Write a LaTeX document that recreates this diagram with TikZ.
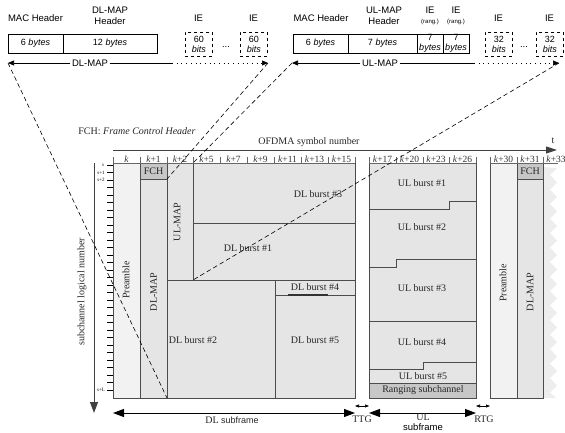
\documentclass[tikz,border=0pt]{standalone}
\usepackage{fontspec}
\setmainfont{Liberation Serif}
\setsansfont{Liberation Sans}
\usetikzlibrary{arrows.meta}

\definecolor{preamblegray}{gray}{0.95}
\definecolor{burstgray}{gray}{0.9}
\definecolor{fchgray}{gray}{0.78}
\definecolor{edgegray}{gray}{0.3}

\newcommand*{\ftop}{163}
\newcommand*{\fbot}{398}
\newcommand*{\fieldtop}{34}
\newcommand*{\arrowy}{63}
\newcommand*{\subarrowy}{413}

\begin{document}
\begin{tikzpicture}
[
	x=1pt,
	y=-1pt,
	hdr/.style={font=\sffamily\fontsize{9.5}{10.5}\selectfont,align=center,inner sep=0pt},
	field/.style={draw,anchor=north west,minimum height=19pt,inner sep=0pt,outer sep=0pt,align=center,font=\sffamily\fontsize{9}{9.5}\selectfont},
	iebox/.style={draw,dashed,line width=0.8pt,anchor=north west,minimum width=27pt,minimum height=24pt,inner sep=0pt,align=center,font=\sffamily\fontsize{9}{9.5}\selectfont},
	maparrow/.style={-{Triangle[length=6pt,width=5pt]},line width=0.7pt},
	mapline/.style={dash pattern=on 4.5pt off 3pt,line width=0.6pt},
	cell/.style={draw=edgegray,line width=0.8pt},
	lbl/.style={font=\fontsize{10}{11}\selectfont,text=black!85,inner sep=0pt},
	vlbl/.style={lbl,rotate=90},
	ticklbl/.style={font=\fontsize{9.5}{10}\selectfont,text=black!80,inner sep=0pt},
	ruler/.style={draw=black!60,line width=0.6pt},
	subarrow/.style={{Triangle[length=11pt,width=8pt]}-{Triangle[length=11pt,width=8pt]},line width=1pt},
	gaparrow/.style={{Triangle[length=4pt,width=3pt]}-{Triangle[length=4pt,width=3pt]},line width=0.6pt}
]

	\useasboundingbox (0,0) rectangle (565,432);

	% DL-MAP message
	\node[hdr] (dlmac) at (35.5,18) {MAC Header};
	\node[hdr] (dlhead) at (110,16) {DL-MAP\\Header};
	\node[field,minimum width=55pt] (dlsix) at (8,\fieldtop) {6 \textit{bytes}};
	\node[field,minimum width=94pt] (dltwelve) at (dlsix.north east) {12 \textit{bytes}};
	\node[iebox] (dlieA) at (185,32) {60\\\textit{bits}};
	\node[iebox] (dlieB) at (240,32) {60\\\textit{bits}};
	\node[hdr] (dlieAt) at (198.5,18) {IE};
	\node[hdr] (dlieBt) at (253.5,18) {IE};
	\node[hdr] (dldots) at (226,47) {...};

	\coordinate (dlL) at (8,\arrowy);
	\coordinate (dlS) at (172,\arrowy);
	\coordinate (dlR) at (268,\arrowy);
	\node[hdr,inner xsep=1.5pt] (dlmap) at (90,\arrowy) {DL-MAP};
	\draw[maparrow] (dlmap.west) -- (dlL);
	\draw[line width=0.7pt] (dlmap.east) -- (dlS);
	\draw[maparrow,dash pattern=on 0.7pt off 4pt] (dlS) -- (dlR);

	% UL-MAP message
	\node[hdr] (ulmac) at (321,18) {MAC Header};
	\node[hdr] (ulhead) at (384,16) {UL-MAP\\Header};
	\node[hdr] (ulrngAt) at (430,16) {IE\\[-1pt]{\fontsize{6}{6}\selectfont(rang.)}};
	\node[hdr] (ulrngBt) at (456,16) {IE\\[-1pt]{\fontsize{6}{6}\selectfont(rang.)}};
	\node[field,minimum width=55pt] (ulsix) at (293,\fieldtop) {6 \textit{bytes}};
	\node[field,minimum width=69pt] (ulseven) at (ulsix.north east) {7 \textit{bytes}};
	\node[field,minimum width=26pt] (ulrngA) at (ulseven.north east) {7\\\textit{bytes}};
	\node[field,minimum width=26pt] (ulrngB) at (ulrngA.north east) {7\\\textit{bytes}};
	\node[iebox] (ulieA) at (485,32) {32\\\textit{bits}};
	\node[iebox] (ulieB) at (536,32) {32\\\textit{bits}};
	\node[hdr] (ulieAt) at (498.5,18) {IE};
	\node[hdr] (ulieBt) at (549.5,18) {IE};
	\node[hdr] (uldots) at (524,47) {...};

	\coordinate (ulL) at (292,\arrowy);
	\coordinate (ulS) at (474,\arrowy);
	\coordinate (ulR) at (559,\arrowy);
	\node[hdr,inner xsep=1.5pt] (ulmap) at (380,\arrowy) {UL-MAP};
	\draw[maparrow] (ulmap.west) -- (ulL);
	\draw[line width=0.7pt] (ulmap.east) -- (ulS);
	\draw[maparrow,dash pattern=on 0.7pt off 4pt] (ulS) -- (ulR);

	% axes
	\node[lbl] (fchnote) at (137,131) {FCH: \textit{Frame Control Header}};
	\node[lbl] (ofdma) at (309,142) {OFDMA symbol number};
	\node[lbl] (tlbl) at (553,141) {t};
	\draw[line width=1pt,black!75,-{Triangle[length=11pt,width=7pt]}] (113,150) -- (557,150);
	\draw[line width=1pt,black!75,-{Triangle[length=11pt,width=8pt]}] (94,\ftop) -- (94,\subarrowy);
	\foreach \i in {0,...,30}
		\draw[line width=0.6pt] (107,{165+7.5*\i}) -- (113,{165+7.5*\i});
	\node[font=\fontsize{5}{5}\selectfont,inner sep=0pt] (sA) at (103,165) {s};
	\node[font=\fontsize{5}{5}\selectfont,inner sep=0pt] (sB) at (101,172.5) {s+1};
	\node[font=\fontsize{5}{5}\selectfont,inner sep=0pt] (sC) at (101,180) {s+2};
	\node[font=\fontsize{5}{5}\selectfont,inner sep=0pt] (sL) at (101,390) {s+L};
	\node[vlbl] (subch) at (82,292) {subchannel logical number};

	% downlink subframe
	\filldraw[cell,fill=preamblegray] (113,\ftop) rectangle (140,\fbot);
	\filldraw[cell,fill=fchgray] (140,\ftop) rectangle (167,179);
	\filldraw[cell,fill=burstgray] (140,179) rectangle (167,\fbot);
	\filldraw[cell,fill=burstgray] (167,\ftop) rectangle (193,280);
	\filldraw[cell,fill=burstgray] (193,\ftop) rectangle (355,223);
	\filldraw[cell,fill=burstgray] (193,223) rectangle (355,280);
	\filldraw[cell,fill=burstgray] (167,280) rectangle (275,\fbot);
	\filldraw[cell,fill=burstgray] (275,280) rectangle (355,295);
	\filldraw[cell,fill=burstgray] (275,295) rectangle (355,\fbot);
	\draw[line width=1.2pt,black!80] (288,295) -- (328,295);
	\node[vlbl] (dlpre) at (126,280) {Preamble};
	\node[lbl] (dlfch) at (153.5,171) {FCH};
	\node[vlbl] (dlmapcol) at (153.5,292) {DL-MAP};
	\node[vlbl] (ulmapcol) at (177,222) {UL-MAP};
	\node[lbl] (dlbC) at (318,194) {DL burst \#3};
	\node[lbl] (dlbA) at (248,248) {DL burst \#1};
	\node[lbl] (dlbB) at (193,340) {DL burst \#2};
	\node[lbl] (dlbD) at (315,287) {DL burst \#4};
	\node[lbl] (dlbE) at (315,340) {DL burst \#5};

	% uplink subframe
	\fill[burstgray] (369,\ftop) rectangle (476,383);
	\filldraw[cell,fill=fchgray] (369,383) rectangle (476,\fbot);
	\draw[cell] (369,\ftop) rectangle (476,\fbot);
	\draw[cell] (369,209) -| (449,201) -- (476,201);
	\draw[cell] (369,267) -| (396,259) -- (476,259);
	\draw[cell] (369,321) -- (476,321);
	\draw[cell] (369,369) -| (423,362) -- (476,362);
	\node[lbl] (ulbA) at (422,183) {UL burst \#1};
	\node[lbl] (ulbB) at (422,227) {UL burst \#2};
	\node[lbl] (ulbC) at (422,288) {UL burst \#3};
	\node[lbl] (ulbD) at (422,342) {UL burst \#4};
	\node[lbl] (ulbE) at (423,376) {UL burst \#5};
	\node[lbl] (rng) at (423,390.5) {Ranging subchannel};

	% next frame
	\fill[black!7] (543,{\ftop+4}) \foreach \i in {0,...,15} { -- (557,{168+14.5*\i}) -- (550,{175+14.5*\i}) } -- (556,\fbot) -- (543,\fbot) -- cycle;
	\filldraw[cell,fill=preamblegray] (490,\ftop) rectangle (517,\fbot);
	\filldraw[cell,fill=fchgray] (517,\ftop) rectangle (543,179);
	\filldraw[cell,fill=burstgray] (517,179) rectangle (543,\fbot);
	\node[vlbl] (nxpre) at (503,283) {Preamble};
	\node[lbl] (nxfch) at (530,171) {FCH};
	\node[vlbl] (nxmap) at (530,292) {DL-MAP};

	% symbol ruler
	\foreach \xa/\xb/\t [count=\i] in {113/140/{\textit{k}},140/167/{\textit{k}+1},167/193/{\textit{k}+2},193/220/{\textit{k}+5},220/247/{\textit{k}+7},247/274/{\textit{k}+9},274/301/{\textit{k}+11},301/328/{\textit{k}+13},328/355/{\textit{k}+15},369/396/{\textit{k}+17},396/423/{\textit{k}+20},423/449/{\textit{k}+23},449/476/{\textit{k}+26},490/517/{\textit{k}+30},517/543/{\textit{k}+31},543/569/{\textit{k}+33}}
	{
		\draw[ruler] (\xa,157) -- (\xa,\ftop);
		\node[ticklbl] (sym\i) at ({(\xa+\xb)/2},159) {\t};
	}
	\draw[ruler] (355,157) -- (355,\ftop) (476,157) -- (476,\ftop);
	\draw[ruler] (113,\ftop) -- (355,\ftop) (369,\ftop) -- (476,\ftop) (490,\ftop) -- (558,\ftop);

	% subframe arrows
	\coordinate (dlA) at (113,\subarrowy);
	\coordinate (dlB) at (355,\subarrowy);
	\coordinate (ulA) at (369,\subarrowy);
	\coordinate (ulB) at (476,\subarrowy);
	\coordinate (ttgA) at (355,406);
	\coordinate (ttgB) at (369,406);
	\coordinate (rtgA) at (476,406);
	\coordinate (rtgB) at (490,406);
	\draw[subarrow] (dlA) -- (dlB);
	\draw[subarrow] (ulA) -- (ulB);
	\draw[gaparrow] (ttgA) -- (ttgB);
	\draw[gaparrow] (rtgA) -- (rtgB);
	\node[lbl] (dlsub) at (232,420) {DL {\sffamily\fontsize{9}{10}\selectfont subframe}};
	\node[lbl] (ttg) at (362,419) {TTG};
	\node[lbl] (ulsubA) at (423,417) {UL};
	\node[hdr] (ulsubB) at (423,427) {subframe};
	\node[lbl] (rtg) at (484,419) {RTG};

	% map to frame
	\coordinate (dlmapse) at (167,\fbot);
	\coordinate (fchse) at (167,179);
	\coordinate (ulmapne) at (193,\ftop);
	\coordinate (ulmapse) at (193,280);
	\draw[mapline] (dlL) -- (dlmapse);
	\draw[mapline] (dlR) -- (fchse);
	\draw[mapline] (ulL) -- (ulmapne);
	\draw[mapline] (ulR) -- (ulmapse);

\end{tikzpicture}
\end{document}
